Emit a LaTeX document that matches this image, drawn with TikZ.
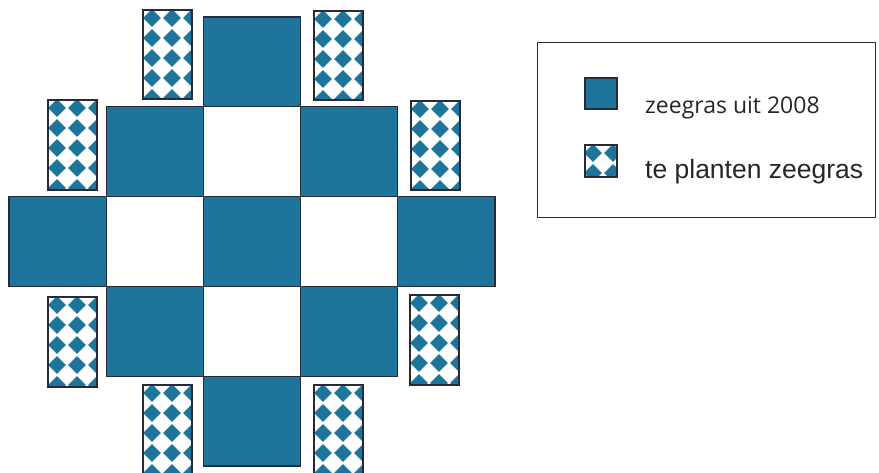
\documentclass[tikz,border=0pt]{standalone}
\usepackage{fontspec}
\newfontfamily\legA{Open Sans}
\newfontfamily\legB{Liberation Sans}
\definecolor{sea}{RGB}{30,117,155}
\definecolor{edgec}{RGB}{40,42,55}
\tikzset{
  cellfill/.style={fill=sea, draw=edgec, line width=1.1pt},
  cellwhite/.style={fill=white, draw=edgec, line width=1.1pt},
  patframe/.style={draw=edgec, line width=1.1pt},
  diam/.style={fill=sea},
  legbox/.style={draw=edgec, line width=0.9pt},
  legtext/.style={anchor=base west, inner sep=0pt, text=black!85}
}
\newcommand{\diamondblob}[2]{%
  \fill[diam] ({#1+8.8},{#2}) .. controls ({#1+4.3},{#2+4.3}) .. ({#1},{#2+8.8})
     .. controls ({#1-4.3},{#2+4.3}) .. ({#1-8.8},{#2})
     .. controls ({#1-4.3},{#2-4.3}) .. ({#1},{#2-8.8})
     .. controls ({#1+4.3},{#2-4.3}) .. cycle;}
\newcommand{\patrect}[4]{%
  \begin{scope}
    \clip (#1,#2) rectangle ++(#3,#4);
    \foreach \i in {0,1,2}{\foreach \j in {0,...,4}{\diamondblob{#1+9+20*\i}{#2+8+20*\j}}}
  \end{scope}
  \draw[patframe] (#1,#2) rectangle ++(#3,#4);}
\begin{document}
\begin{tikzpicture}[x=1pt,y=-1pt]
\useasboundingbox (0,0) rectangle (879,472);
% grid cells
\foreach \c/\r in {2/1,1/2,3/2,2/3}{
  \draw[cellwhite] ({9+97.2*\c},{17+89.8*\r}) rectangle ++(97.2,89.8);}
\foreach \c/\r in {2/0,1/1,3/1,0/2,2/2,4/2,1/3,3/3,2/4}{
  \draw[cellfill] ({9+97.2*\c},{17+89.8*\r}) rectangle ++(97.2,89.8);}
% planting strips
\patrect{143}{10}{49}{89}
\patrect{314}{11}{49}{89}
\patrect{48}{100}{49}{90}
\patrect{411}{101}{49}{89}
\patrect{48}{297}{49}{90}
\patrect{410}{295}{49}{90}
\patrect{143}{385}{49}{89}
\patrect{314}{385}{49}{89}
% legend
\draw[legbox] (537,42) rectangle (875,217);
\draw[cellfill] (585,78) rectangle (617,109);
\begin{scope}
  \clip (585,145) rectangle (617,177);
  \foreach \i in {0,1}{\foreach \j in {0,1}{\diamondblob{585+8+20*\i}{145+8+20*\j}}}
\end{scope}
\draw[patframe] (585,145) rectangle (617,177);
\node[legtext, font=\legA\fontsize{23}{27}\selectfont] (l1) at (645,113) {zeegras uit 2008};
\node[legtext, font=\legB\fontsize{26.5}{30}\selectfont] (l2) at (645,178) {te planten zeegras};
\end{tikzpicture}
\end{document}
